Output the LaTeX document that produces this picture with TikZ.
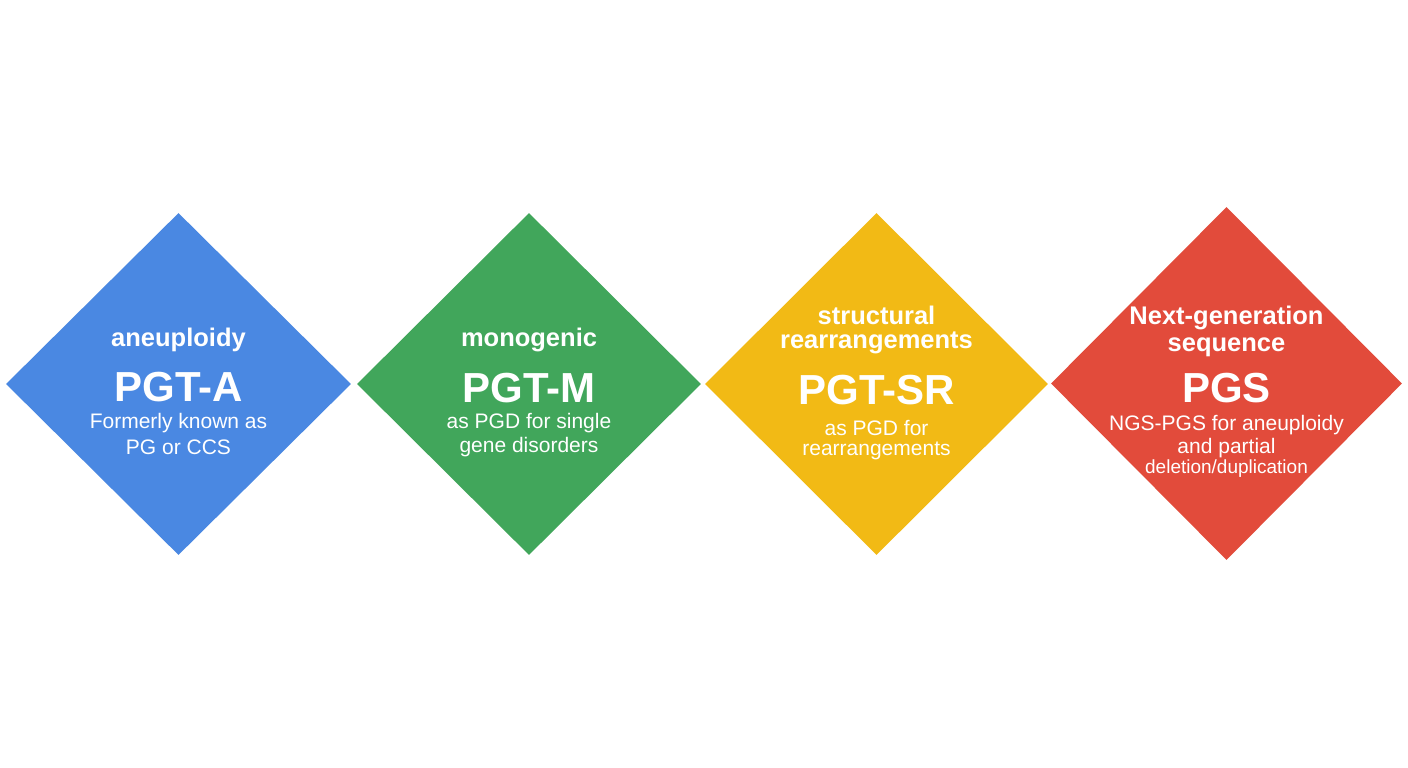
\documentclass[tikz,border=0pt]{standalone}
\usepackage{fontspec}
\setmainfont{Liberation Sans}
\usetikzlibrary{shapes.geometric}
\definecolor{cblue}{HTML}{4A88E2}
\definecolor{cgreen}{HTML}{41A65B}
\definecolor{cyellow}{HTML}{F2BA15}
\definecolor{cred}{HTML}{E24B3B}
\tikzset{
  dia/.style={diamond, inner sep=0pt, draw=none, fill=#1},
  small/.style={text=white, font=\fontsize{25.5}{28}\selectfont\bfseries, inner sep=0pt},
  big/.style={text=white, font=\fontsize{42}{46}\selectfont\bfseries, inner sep=0pt},
  sub/.style={text=white, font=\fontsize{21}{24}\selectfont, inner sep=0pt},
  subs/.style={text=white, font=\fontsize{19}{22}\selectfont, inner sep=0pt},
}
\begin{document}
\begin{tikzpicture}[x=1pt,y=-1pt]
\useasboundingbox (0,0) rectangle (1408,768);
\fill[white] (0,0) rectangle (1408,768);
% diamonds
\node[dia=cblue, minimum width=345pt, minimum height=342pt] (d1) at (178.5,384) {};
\node[dia=cgreen, minimum width=344pt, minimum height=342pt] (d2) at (529,384) {};
\node[dia=cyellow, minimum width=343pt, minimum height=342pt] (d3) at (876.5,384) {};
\node[dia=cred, minimum width=351pt, minimum height=353pt] (d4) at (1226.5,383.5) {};
% blue
\node[small] (a1) at (178.5,340) {aneuploidy};
\node[big] (a2) at (178.5,387) {PGT-A};
\node[sub] (a3) at (178.5,423) {Formerly known as};
\node[sub] (a4) at (178.5,447) {PG or CCS};
% green
\node[small] (b1) at (529,340) {monogenic};
\node[big] (b2) at (529,388) {PGT-M};
\node[sub] (b3) at (529,423) {as PGD for single};
\node[sub] (b4) at (529,447) {gene disorders};
% yellow
\node[small] (c1) at (876.5,315) {structural};
\node[small] (c2) at (876.5,343) {rearrangements};
\node[big] (c3) at (876.5,390) {PGT-SR};
\node[sub] (c4) at (876.5,428) {as PGD for};
\node[sub] (c5) at (876.5,451) {rearrangements};
% red
\node[small] (e1) at (1226.5,318) {Next-generation};
\node[small] (e2) at (1226.5,347) {sequence};
\node[big] (e3) at (1226.5,388) {PGS};
\node[sub] (e4) at (1226.5,425) {NGS-PGS for aneuploidy};
\node[sub] (e5) at (1226.5,448) {and partial};
\node[subs] (e6) at (1226.5,469) {deletion/duplication};
\end{tikzpicture}
\end{document}
